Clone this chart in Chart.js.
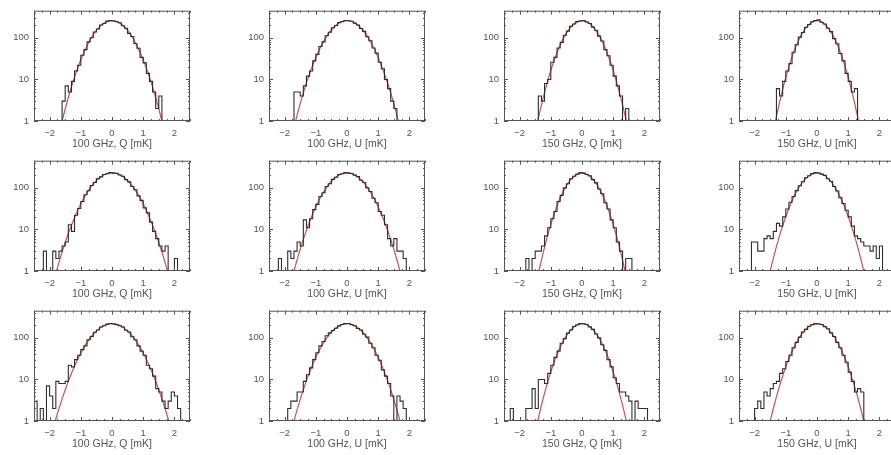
<!DOCTYPE html>
<html>
<head>
<meta charset="utf-8">
<script src="https://cdn.jsdelivr.net/npm/chart.js@4"></script>
<style>
  html, body { margin: 0; padding: 0; background: #fff; }
  body { width: 891px; height: 455px; overflow: hidden; position: relative; }
  .panel { position: absolute; width: 200px; height: 150px; }
</style>
</head>
<body>
<div id="grid"></div>
<script>
// bin centres of the histograms [mK]
const binCenters = [-2.45,-2.35,-2.25,-2.15,-2.05,-1.95,-1.85,-1.75,-1.65,-1.55,
  -1.45,-1.35,-1.25,-1.15,-1.05,-0.95,-0.85,-0.75,-0.65,-0.55,
  -0.45,-0.35,-0.25,-0.15,-0.05,0.05,0.15,0.25,0.35,0.45,
  0.55,0.65,0.75,0.85,0.95,1.05,1.15,1.25,1.35,1.45,
  1.55,1.65,1.75,1.85,1.95,2.05,2.15,2.25,2.35,2.45];

// x positions of the gaussian fit curves
const fitX = [-2.4,-2.2,-2.0,-1.8,-1.6,-1.4,-1.2,-1.0,-0.8,-0.6,-0.4,-0.2,0,
  0.2,0.4,0.6,0.8,1.0,1.2,1.4,1.6,1.8,2.0,2.2,2.4];

const xTitles = ["100 GHz, Q [mK]", "100 GHz, U [mK]", "150 GHz, Q [mK]", "150 GHz, U [mK]"];
const xTickValues = [-2, -1, 0, 1, 2];
const yTickValues = [1, 10, 100];

// row 1
const hist1 = [0,0,0,0,0,0,0,0,0,3,7,5,9,16,22,38,52,80,101,138,163,204,222,252,262,255,244,230,195,170,128,108,73,56,34,25,14,9,5,2,4,0,0,0,0,0,0,0,0,0];
const hist2 = [0,0,0,0,0,0,0,1,5,5,4,7,12,16,28,40,62,80,112,136,175,198,232,245,262,258,250,226,204,168,143,106,85,57,43,26,18,10,6,3,2,0,0,0,0,0,0,0,0,0];
const hist3 = [0,0,0,0,0,0,0,0,0,0,0,4,3,8,10,26,34,57,78,116,145,190,215,246,255,262,240,222,181,152,110,84,52,37,22,12,7,4,1,2,0,0,0,0,0,0,0,0,0,0];
const hist4 = [0,0,0,0,0,0,0,0,0,0,0,0,6,4,9,16,24,45,68,104,135,180,210,245,262,270,238,216,170,141,96,72,42,28,14,9,5,6,0,0,0,0,0,0,0,0,0,0,0,0];
// row 2
const hist5 = [0,0,0,3,1,0,3,2,3,4,5,13,9,22,32,47,68,85,114,134,165,184,210,218,232,226,224,204,190,158,139,108,90,64,50,33,25,15,9,6,4,3,4,1,0,2,0,0,0,0];
const hist6 = [0,0,0,2,0,1,3,2,3,5,4,17,11,18,30,40,62,76,108,126,160,180,210,218,232,226,222,202,186,152,134,100,82,56,44,27,22,13,6,4,6,3,3,2,0,0,0,0,0,0];
const hist7 = [0,0,0,0,0,0,0,2,0,2,3,3,4,7,11,18,27,47,66,100,126,165,190,214,232,226,210,196,158,132,94,72,44,31,17,11,5,3,1,2,2,0,0,0,0,0,0,0,0,0];
const hist8 = [0,0,0,0,5,5,3,3,6,7,6,9,14,12,20,31,45,62,86,112,140,175,196,220,232,228,214,200,166,144,108,84,58,42,29,20,12,7,6,5,4,4,3,4,2,4,1,0,0,0];
// row 3
const hist9 = [3,0,2,1,7,4,2,9,8,8,9,22,20,30,38,52,64,90,108,136,154,182,196,214,222,216,208,196,182,152,138,106,90,64,48,38,22,18,12,6,5,3,2,3,5,4,2,1,0,0];
const hist10 = [0,0,0,0,0,0,2,3,3,5,5,9,13,19,30,44,64,82,112,132,150,170,194,210,220,222,206,196,168,154,122,104,74,58,38,29,17,12,8,4,1,4,3,2,0,0,0,0,0,0];
const hist11 = [0,0,2,0,0,0,0,2,2,6,2,10,10,8,14,22,34,48,74,96,130,154,188,206,220,218,210,184,160,124,100,68,50,30,20,11,8,5,5,4,3,1,3,2,2,2,0,0,0,0];
const hist12 = [0,0,0,0,1,2,3,2,5,4,6,8,9,14,18,27,38,58,78,104,138,160,190,206,220,216,210,186,166,132,108,78,58,38,26,15,9,5,6,5,0,0,0,0,0,0,0,0,0,0];

// gaussian fits read at fitX
const fit1 = [null,null,null,0.23,1,3.68,11.4,29.6,64.8,119,184,238,260,238,184,119,64.8,29.6,11.4,3.68,1,0.23,null,null,null];
const fit2 = [null,null,null,0.35,1.39,4.75,13.7,33.7,70.3,125,187,240,260,240,187,125,70.3,33.7,13.7,4.75,1.39,0.35,null,null,null];
const fit3 = [null,null,null,null,0.22,1.17,4.9,16.5,44.5,96.4,167,233,260,233,167,96.4,44.5,16.5,4.9,1.17,0.22,null,null,null,null];
const fit4 = [null,null,null,null,0.083,0.55,2.81,11.2,34.8,83.9,157,229,260,229,157,83.9,34.8,11.2,2.81,0.55,0.083,null,null,null,null];
const fit5 = [null,null,0.24,0.88,2.84,7.96,19.4,41.4,76.7,124,175,215,230,215,175,124,76.7,41.4,19.4,7.96,2.84,0.88,0.24,null,null];
const fit6 = [null,null,null,0.52,1.86,5.75,15.3,35.1,69,117,170,213,230,213,170,117,69,35.1,15.3,5.75,1.86,0.52,null,null,null];
const fit7 = [null,null,null,null,0.15,0.85,3.77,13.2,37,82.3,146,205,230,205,146,82.3,37,13.2,3.77,0.85,0.15,null,null,null,null];
const fit8 = [null,null,null,null,0.47,2.02,7.08,20.5,49,96.4,156,209,230,209,156,96.4,49,20.5,7.08,2.02,0.47,null,null,null,null];
const fit9 = [null,null,0.33,1.13,3.4,9.04,21.1,43.2,77.6,122,169,206,220,206,169,122,77.6,43.2,21.1,9.04,3.4,1.13,0.33,null,null];
const fit10 = [null,null,null,0.52,1.85,5.67,15,34,66.5,112,163,204,220,204,163,112,66.5,34,15,5.67,1.85,0.52,null,null,null];
const fit11 = [null,null,null,null,0.23,1.16,4.67,15.2,39.7,84,143,198,220,198,143,84,39.7,15.2,4.67,1.16,0.23,null,null,null,null];
const fit12 = [null,null,null,null,0.48,2.0,6.97,20,47.4,92.7,150,200,220,200,150,92.7,47.4,20,6.97,2.0,0.48,null,null,null,null];

const hists = [hist1, hist2, hist3, hist4, hist5, hist6, hist7, hist8, hist9, hist10, hist11, hist12];
const fits = [fit1, fit2, fit3, fit4, fit5, fit6, fit7, fit8, fit9, fit10, fit11, fit12];

const FONT = "'Liberation Sans', Arial, sans-serif";
const GREY = "#555";

// box around the plot with inward ticks on all four sides (IDL look)
const boxTicks = {
  id: "boxTicks",
  afterDraw(chart) {
    const { ctx, chartArea: a, scales } = chart;
    ctx.save();
    ctx.strokeStyle = GREY;
    ctx.lineWidth = 1;
    ctx.strokeRect(a.left + 0.5, a.top + 0.5, a.right - a.left - 1, a.bottom - a.top - 1);
    ctx.beginPath();
    for (let v = -2.5; v <= 2.5001; v += 0.25) {
      const px = Math.round(scales.x.getPixelForValue(v)) + 0.5;
      const len = Math.abs(v - Math.round(v)) < 1e-6 ? 4 : 2;
      ctx.moveTo(px, a.bottom); ctx.lineTo(px, a.bottom - len);
      ctx.moveTo(px, a.top); ctx.lineTo(px, a.top + len);
    }
    [1, 10, 100].forEach(dec => {
      for (let m = 1; m <= 9; m++) {
        const v = dec * m;
        if (v > scales.y.max) break;
        const py = Math.round(scales.y.getPixelForValue(v)) + 0.5;
        const len = m === 1 ? 4 : 2;
        ctx.moveTo(a.left, py); ctx.lineTo(a.left + len, py);
        ctx.moveTo(a.right, py); ctx.lineTo(a.right - len, py);
      }
    });
    ctx.stroke();
    ctx.restore();
  }
};

const grid = document.getElementById("grid");
const colLeft = [0, 235, 470, 705];
const rowTop = [0, 150, 300];

hists.forEach((hist, i) => {
  const row = Math.floor(i / 4), col = i % 4;
  const div = document.createElement("div");
  div.className = "panel";
  div.style.left = colLeft[col] + "px";
  div.style.top = rowTop[row] + "px";
  const canvas = document.createElement("canvas");
  div.appendChild(canvas);
  grid.appendChild(div);

  new Chart(canvas.getContext("2d"), {
    type: "line",
    data: {
      datasets: [
        {
          data: binCenters.map((x, k) => ({ x, y: hist[k] > 0 ? hist[k] : 0.3 })),
          stepped: "middle",
          borderColor: "#2e2e2e",
          borderWidth: 1.1,
          pointRadius: 0
        },
        {
          data: fitX.map((x, k) => ({ x, y: fits[i][k] })),
          borderColor: "rgba(205,60,60,0.9)",
          borderWidth: 1.2,
          pointRadius: 0,
          cubicInterpolationMode: "monotone"
        }
      ]
    },
    options: {
      responsive: true,
      maintainAspectRatio: false,
      animation: false,
      layout: { padding: { top: 5, right: 10, left: 0, bottom: 0 } },
      plugins: { legend: { display: false }, tooltip: { enabled: false } },
      scales: {
        x: {
          type: "linear",
          min: -2.5,
          max: 2.5,
          grid: { display: false, drawTicks: false },
          border: { display: false },
          afterFit: s => { s.height = 29; },
          ticks: {
            stepSize: 0.5,
            padding: 7,
            autoSkip: false,
            maxRotation: 0,
            color: GREY,
            font: { family: FONT, size: 9.5 },
            callback: v => xTickValues.includes(v) ? String(v).replace("-", "\u2212") : ""
          },
          title: {
            display: true,
            text: xTitles[col],
            color: GREY,
            padding: { top: 0, bottom: 0 },
            font: { family: FONT, size: 10.5 }
          }
        },
        y: {
          type: "logarithmic",
          min: 1,
          max: 450,
          grid: { display: false, drawTicks: false },
          border: { display: false },
          afterFit: s => { s.width = 34; },
          ticks: {
            padding: 5,
            autoSkip: false,
            color: GREY,
            font: { family: FONT, size: 9.5 },
            callback: v => yTickValues.includes(v) ? String(v) : ""
          }
        }
      }
    },
    plugins: [boxTicks]
  });
});
</script>
</body>
</html>
